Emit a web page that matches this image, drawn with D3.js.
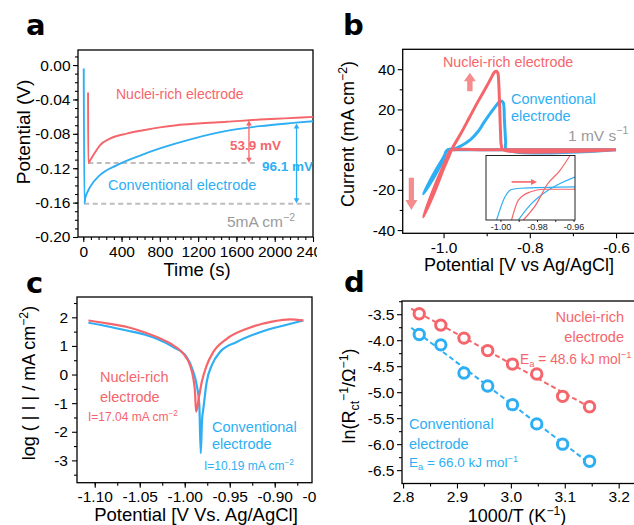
<!DOCTYPE html>
<html>
<head>
<meta charset="utf-8">
<script src="https://cdn.jsdelivr.net/npm/d3@7"></script>
<style>
  body { margin: 0; background: #fff; }
</style>
</head>
<body>
<script>
// ---- panel a : potential vs time ----
const timeNuclei = [50, 52, 65, 104, 174, 279, 453, 627, 800, 975, 1200, 1497, 1845, 2100, 2400];
const potNuclei  = [-0.032, -0.114, -0.112, -0.105, -0.0933, -0.0855, -0.0797, -0.0758, -0.0725, -0.0700, -0.0680, -0.0660, -0.0634, -0.0620, -0.0603];
const timeConv   = [5, 12, 20, 35, 70, 174, 348, 600, 800, 1149, 1497, 1845, 2193, 2400];
const potConv    = [-0.004, -0.161, -0.155, -0.150, -0.142, -0.128, -0.1166, -0.105, -0.097, -0.0855, -0.0766, -0.0711, -0.0673, -0.0653];
const aTimeTicks = [0, 400, 800, 1200, 1600, 2000, 2400];
const aPotTicks  = [-0.20, -0.16, -0.12, -0.08, -0.04, 0.00];

// ---- panel b : cyclic voltammetry ----
const cvNucleiV = [-0.60, -0.90, -0.975, -0.985, -0.995, -1.02, -1.047, -1.02, -1.0, -0.99, -0.98, -0.96, -0.94, -0.92, -0.90, -0.89, -0.882, -0.877, -0.874, -0.872, -0.870, -0.868, -0.866, -0.862, -0.60];
const cvNucleiI = [0, 0, 0, -0.6, -5.5, -18, -33.5, -20.5, -9.5, -4.5, 0.5, 8, 16, 24, 31.5, 35.5, 38.5, 39, 38, 33, 22, 9, 2, 0, 0];
const cvConvV = [-0.60, -0.86, -0.975, -0.99, -0.995, -1.0, -1.02, -1.047, -1.02, -1.0, -0.995, -0.99, -0.975, -0.96, -0.9376, -0.92, -0.907, -0.89, -0.876, -0.868, -0.862, -0.859, -0.856, -0.854, -0.60];
const cvConvI = [0, 0, 0, 0, -1.5, -3.8, -11, -22, -12.8, -4.8, -1.2, 0, 0.3, 1.8, 5, 9, 13.3, 18.5, 22.5, 24.2, 23.5, 15, 4, 0, 0];
const bVTicks = [-1.0, -0.8, -0.6];
const bITicks = [-40, -20, 0, 20, 40];
// inset (zoom around -0.98 V)
const insNucleiAV = [-0.9939, -0.9902, -0.9838, -0.9765, -0.9592];
const insNucleiAI = [-1.0, -0.385, -0.13, -0.046, -0.046];
const insNucleiBV = [-0.9875, -0.9802, -0.9747, -0.9674, -0.9619];
const insNucleiBI = [-1.0, -0.49, 0.077, 0.54, 1.0];
const insConvAV = [-1.0021, -0.9975, -0.9939, -0.9893, -0.9592];
const insConvAI = [-1.0, -0.28, -0.055, -0.015, 0.025];
const insConvBV = [-0.9902, -0.9838, -0.9765, -0.9692, -0.9592];
const insConvBI = [-1.0, -0.54, -0.18, 0.077, 0.33];
const insTicks = [-1.00, -0.98, -0.96];

// ---- panel c : Tafel ----
const tafelNucleiV = [-1.107, -1.085, -1.064, -1.045, -1.031, -1.0127, -1.0016, -0.9941, -0.9904, -0.9886, -0.9874, -0.9838, -0.9811, -0.9756, -0.9682, -0.9533, -0.9311, -0.9016, -0.883, -0.8682];
const tafelNucleiL = [1.89, 1.78, 1.66, 1.48, 1.31, 1.02, 0.73, 0.32, -0.14, -0.6, -1.30, -0.72, -0.26, 0.32, 0.79, 1.25, 1.60, 1.86, 1.93, 1.89];
const tafelConvV = [-1.107, -1.085, -1.0644, -1.045, -1.0311, -1.0127, -0.9978, -0.9904, -0.9867, -0.9838, -0.9822, -0.9808, -0.9793, -0.9756, -0.970, -0.9608, -0.9422, -0.9163, -0.8867, -0.8682];
const tafelConvL = [1.81, 1.68, 1.54, 1.40, 1.25, 0.96, 0.61, 0.09, -0.37, -1.07, -2.75, -1.6, -1.19, -0.26, 0.32, 0.79, 1.14, 1.48, 1.74, 1.89];
const cVTicks = [-1.10, -1.05, -1.00, -0.95, -0.90, -0.85];
const cLTicks = [-3, -2, -1, 0, 1, 2];

// ---- panel d : Arrhenius ----
const invT = [2.830, 2.870, 2.913, 2.957, 3.003, 3.048, 3.096, 3.146];
const lnRNuclei = [-3.49, -3.71, -3.96, -4.20, -4.46, -4.65, -5.08, -5.28];
const lnRConv   = [-3.89, -4.09, -4.63, -4.88, -5.24, -5.61, -6.00, -6.33];
const dXTicks = [2.8, 2.9, 3.0, 3.1, 3.2];
const dYTicks = [-6.5, -6.0, -5.5, -5.0, -4.5, -4.0, -3.5];

const FONT = '"Liberation Sans", Arial, sans-serif';
const RED = "#f4666b", BLUE = "#2eaff3", GRAY = "#9a9a9a";

const svg = d3.select("body").append("svg").attr("width", 634).attr("height", 525);
const defs = svg.append("defs");
defs.append("clipPath").attr("id", "clipLeft")
    .append("rect").attr("x", 0).attr("y", 0).attr("width", 317).attr("height", 525);

const minus = s => s.replace(/\u2212/g, "-");
let clipCount = 0;

// builds frame + major/minor ticks, returns scales and a clipped plot group
function panel(o) {
    const root = svg.append("g");
    if (o.clipLeft) root.attr("clip-path", "url(#clipLeft)");
    const x = d3.scaleLinear().domain(o.xd).range([o.l, o.r]);
    const y = d3.scaleLinear().domain(o.yd).range([o.b, o.t]);
    const inX = v => v > o.xd[0] + 1e-6 && v < o.xd[1] - 1e-6;
    const inY = v => v > o.yd[0] + 1e-6 && v < o.yd[1] - 1e-6;

    root.append("g").attr("transform", `translate(0,${o.b})`)
        .call(d3.axisBottom(x).tickValues(o.xMinor.filter(inX)).tickSize(3).tickFormat(""));
    root.append("g").attr("transform", `translate(0,${o.b})`)
        .call(d3.axisBottom(x).tickValues(o.xTicks).tickSize(5).tickPadding(o.xPad || 3.5).tickFormat(d => minus(o.xf(d))));
    root.append("g").attr("transform", `translate(${o.l},0)`)
        .call(d3.axisLeft(y).tickValues(o.yMinor.filter(inY)).tickSize(3).tickFormat(""));
    root.append("g").attr("transform", `translate(${o.l},0)`)
        .call(d3.axisLeft(y).tickValues(o.yTicks).tickSize(5).tickPadding(o.yPad || 2.5).tickFormat(d => minus(o.yf(d))));

    root.selectAll(".domain").remove();
    root.selectAll(".tick line").attr("stroke", "#000").attr("stroke-width", 1.1);
    root.selectAll(".tick text").attr("font-size", 15.5).attr("font-family", FONT).attr("fill", "#000");

    root.append("rect")
        .attr("x", o.l).attr("y", o.t).attr("width", o.r - o.l).attr("height", o.b - o.t)
        .attr("fill", "none").attr("stroke", "#000").attr("stroke-width", 1.3);

    const id = "clip" + (clipCount++);
    defs.append("clipPath").attr("id", id).append("rect")
        .attr("x", o.l).attr("y", o.t).attr("width", o.r - o.l).attr("height", o.b - o.t);
    const plot = root.append("g").attr("clip-path", `url(#${id})`);
    return { root, plot, x, y };
}

// text with sup/sub parts: [["text"], ["2", "sup"], ...]
function txt(g, x, y, parts, o = {}) {
    const fs = o.size || 14.5;
    const t = g.append("text")
        .attr("font-size", fs).attr("font-family", FONT)
        .attr("fill", o.color || "#000")
        .attr("font-weight", o.weight || "normal")
        .attr("text-anchor", o.anchor || "start");
    if (o.rotate) t.attr("transform", `translate(${x},${y}) rotate(-90)`);
    else t.attr("x", x).attr("y", y);
    if (typeof parts === "string") parts = [[parts]];
    let off = 0;
    parts.forEach(([s, k]) => {
        const shift = k === "sup" ? -fs * 0.4 : k === "sub" ? fs * 0.22 : 0;
        t.append("tspan").attr("dy", shift - off).attr("font-size", k ? fs * 0.68 : fs).text(s);
        off = shift;
    });
    return t;
}

function zip(a, b) { return a.map((v, i) => [v, b[i]]); }

function head(g, x, y, dir, len, hw, color) {
    // dir = -1 points up, +1 points down ; "r" points right
    if (dir === "r") {
        g.append("path").attr("d", `M${x},${y}L${x - len},${y - hw}L${x - len},${y + hw}Z`).attr("fill", color);
    } else {
        g.append("path").attr("d", `M${x},${y}L${x - hw},${y - dir * len}L${x + hw},${y - dir * len}Z`).attr("fill", color);
    }
}

function doubleArrow(g, x, y1, y2, color) {
    g.append("line").attr("x1", x).attr("x2", x).attr("y1", y1 + 4).attr("y2", y2 - 4)
        .attr("stroke", color).attr("stroke-width", 1.3);
    head(g, x, y1, -1, 5, 2.8, color);
    head(g, x, y2, 1, 5, 2.8, color);
}

function blockArrow(g, cx, tailY, tipY, hl, hw, sw, color) {
    const dir = Math.sign(tipY - tailY);
    const baseY = tipY - dir * hl;
    const pts = [[cx - sw, tailY], [cx - sw, baseY], [cx - hw, baseY], [cx, tipY],
                 [cx + hw, baseY], [cx + sw, baseY], [cx + sw, tailY]];
    g.append("path").attr("d", "M" + pts.map(p => p.join(",")).join("L") + "Z").attr("fill", color);
}

// ================= panel a =================
const pa = panel({
    l: 78, r: 313, t: 50, b: 237, xd: [-55, 2400], yd: [-0.2, 0.0175], clipLeft: true,
    xTicks: aTimeTicks, xMinor: d3.range(0, 2401, 80), xf: d3.format("d"),
    yTicks: aPotTicks, yMinor: d3.range(-20, 2).map(v => v / 100), yf: d3.format(".2f")
});
const lineA = d3.line().x(d => pa.x(d[0])).y(d => pa.y(d[1])).curve(d3.curveMonotoneX);

// reference dashed levels
pa.plot.append("line").attr("x1", pa.x(52)).attr("x2", pa.x(1810))
    .attr("y1", pa.y(-0.114)).attr("y2", pa.y(-0.114))
    .attr("stroke", "#bdbdbd").attr("stroke-width", 2).attr("stroke-dasharray", "5,3.5");
pa.plot.append("line").attr("x1", pa.x(10)).attr("x2", pa.x(2400))
    .attr("y1", pa.y(-0.1613)).attr("y2", pa.y(-0.1613))
    .attr("stroke", "#bdbdbd").attr("stroke-width", 2).attr("stroke-dasharray", "5,3.5");

pa.plot.append("path").attr("d", lineA(zip(timeConv, potConv)))
    .attr("fill", "none").attr("stroke", BLUE).attr("stroke-width", 1.9);
pa.plot.append("path").attr("d", lineA(zip(timeNuclei, potNuclei)))
    .attr("fill", "none").attr("stroke", RED).attr("stroke-width", 1.9);

doubleArrow(pa.root, pa.x(1731), pa.y(-0.0645), pa.y(-0.1135), RED);
doubleArrow(pa.root, pa.x(2228), pa.y(-0.068), pa.y(-0.1608), BLUE);

txt(pa.root, 116, 99, "Nuclei-rich electrode", { color: RED, size: 14 });
txt(pa.root, 108, 190, "Conventional electrode", { color: BLUE, size: 14.5 });
txt(pa.root, 230, 150, "53.9 mV", { color: RED, size: 13.5, weight: "bold" });
txt(pa.root, 262, 170.5, "96.1 mV", { color: BLUE, size: 13.5, weight: "bold" });
txt(pa.root, 227, 227, [["5mA cm"], ["\u22122", "sup"]], { color: GRAY, size: 15.5 });
txt(pa.root, 30, 132, "Potential (V)", { size: 19, anchor: "middle", rotate: true });
txt(pa.root, 197, 276, "Time (s)", { size: 18.5, anchor: "middle" });
txt(svg, 26, 35, "a", { size: 29, weight: "bold" }).attr("font-family", '"DejaVu Sans", sans-serif');

// ================= panel b =================
const pb = panel({
    l: 402.7, r: 635, t: 49.3, b: 233.3, xd: [-1.0948, -0.556], yd: [-41.6, 49.9],
    xTicks: bVTicks, xMinor: [-1.1, -0.9, -0.7], xf: d3.format(".1f"),
    yTicks: bITicks, yMinor: [-30, -10, 10, 30], yf: d3.format("d")
});
const lineB = d3.line().x(d => pb.x(d[0])).y(d => pb.y(d[1])).curve(d3.curveCatmullRom.alpha(0.5));
pb.plot.append("path").attr("d", lineB(zip(cvConvV, cvConvI)))
    .attr("fill", "none").attr("stroke", BLUE).attr("stroke-width", 3).attr("stroke-linejoin", "round");
pb.plot.append("path").attr("d", lineB(zip(cvNucleiV, cvNucleiI)))
    .attr("fill", "none").attr("stroke", RED).attr("stroke-width", 3).attr("stroke-linejoin", "round");

blockArrow(pb.root, pb.x(-0.939), pb.y(29), pb.y(38.3), 8.5, 6, 2.7, "#f58c8e");
blockArrow(pb.root, pb.x(-1.0747), pb.y(-14), pb.y(-30), 10, 6, 2.6, "#f58c8e");

txt(pb.root, 443, 66.5, "Nuclei-rich electrode", { color: RED, size: 14.3 });
txt(pb.root, 511, 104, "Conventional", { color: BLUE, size: 14.5 });
txt(pb.root, 511, 121, "electrode", { color: BLUE, size: 14.5 });
txt(pb.root, 568, 140.5, [["1 mV s"], ["\u22121", "sup"]], { color: GRAY, size: 15.5 });
txt(pb.root, 354, 134, [["Current (mA cm"], ["\u22122", "sup"], [")"]], { size: 18, anchor: "middle", rotate: true });
txt(pb.root, 519, 271, "Potential [V vs Ag/AgCl]", { size: 18, anchor: "middle" });
txt(svg, 343, 35, "b", { size: 29, weight: "bold" }).attr("font-family", '"DejaVu Sans", sans-serif');

// inset
const ins = { l: 486, r: 575, t: 155.5, b: 220 };
const ix = d3.scaleLinear().domain([-1.0079, -0.9592]).range([ins.l, ins.r]);
const iy = d3.scaleLinear().domain([-1, 1]).range([ins.b, ins.t]);
const insG = pb.root.append("g");
insG.append("rect").attr("x", ins.l).attr("y", ins.t).attr("width", ins.r - ins.l).attr("height", ins.b - ins.t)
    .attr("fill", "#fff");
defs.append("clipPath").attr("id", "clipInset").append("rect")
    .attr("x", ins.l).attr("y", ins.t).attr("width", ins.r - ins.l).attr("height", ins.b - ins.t);
const insPlot = insG.append("g").attr("clip-path", "url(#clipInset)");
const lineI = d3.line().x(d => ix(d[0])).y(d => iy(d[1])).curve(d3.curveMonotoneX);
[[insConvAV, insConvAI, BLUE], [insConvBV, insConvBI, BLUE],
 [insNucleiAV, insNucleiAI, RED], [insNucleiBV, insNucleiBI, RED]].forEach(([v, c, col]) => {
    insPlot.append("path").attr("d", lineI(zip(v, c)))
        .attr("fill", "none").attr("stroke", col).attr("stroke-width", 1.2);
});
const insAx = insG.append("g").attr("transform", `translate(0,${ins.b})`)
    .call(d3.axisBottom(ix).tickValues([-1.00, -0.99, -0.98, -0.97, -0.96]).tickSize(2).tickPadding(1.2)
        .tickFormat(d => insTicks.some(t => Math.abs(t - d) < 1e-6) ? minus(d3.format(".2f")(d)) : ""));
insAx.select(".domain").remove();
insAx.selectAll("text").attr("font-size", 9).attr("font-family", FONT).attr("fill", "#222");
insAx.selectAll("line").attr("stroke", "#222");
insG.append("rect").attr("x", ins.l).attr("y", ins.t).attr("width", ins.r - ins.l).attr("height", ins.b - ins.t)
    .attr("fill", "none").attr("stroke", "#222").attr("stroke-width", 1);
insG.append("line").attr("x1", ix(-0.9939)).attr("x2", ix(-0.9815))
    .attr("y1", iy(0.18)).attr("y2", iy(0.18)).attr("stroke", RED).attr("stroke-width", 1.6);
head(insG, ix(-0.980), iy(0.18), "r", 6, 3, RED);

// ================= panel c =================
const pc = panel({
    l: 77, r: 312, t: 297, b: 482.7, xd: [-1.1197, -0.8586], yd: [-3.78, 2.71], clipLeft: true,
    xTicks: cVTicks, xMinor: d3.range(0, 11).map(i => -1.10 + i * 0.025), xf: d3.format(".2f"),
    yTicks: cLTicks, yMinor: [-3.5, -2.5, -1.5, -0.5, 0.5, 1.5, 2.5], yf: d3.format("d"),
    yPad: 4
});
const lineC = d3.line().x(d => pc.x(d[0])).y(d => pc.y(d[1])).curve(d3.curveMonotoneX);
pc.plot.append("path").attr("d", lineC(zip(tafelConvV, tafelConvL)))
    .attr("fill", "none").attr("stroke", BLUE).attr("stroke-width", 2.2);
pc.plot.append("path").attr("d", lineC(zip(tafelNucleiV, tafelNucleiL)))
    .attr("fill", "none").attr("stroke", RED).attr("stroke-width", 2.2);

txt(pc.root, 100, 382, "Nuclei-rich", { color: RED, size: 14.5 });
txt(pc.root, 100, 401.5, "electrode", { color: RED, size: 14.5 });
txt(pc.root, 88, 421, [["I=17.04 mA cm"], ["\u22122", "sup"]], { color: RED, size: 12 });
txt(pc.root, 212, 431.5, "Conventional", { color: BLUE, size: 14.5 });
txt(pc.root, 212, 449, "electrode", { color: BLUE, size: 14.5 });
txt(pc.root, 204, 470, [["I=10.19 mA cm"], ["\u22122", "sup"]], { color: BLUE, size: 12 });
txt(pc.root, 35, 383, [["log ( | I | / mA cm"], ["\u22122", "sup"], [")"]], { size: 18, anchor: "middle", rotate: true });
txt(pc.root, 196, 521, "Potential [V Vs. Ag/AgCl]", { size: 18.5, anchor: "middle" });
txt(svg, 26, 293, "c", { size: 29, weight: "bold" }).attr("font-family", '"DejaVu Sans", sans-serif');

// ================= panel d =================
const pd = panel({
    l: 402, r: 635, t: 301, b: 483.5, xd: [2.798, 3.2303], yd: [-6.757, -3.246],
    xTicks: dXTicks, xMinor: [2.85, 2.95, 3.05, 3.15], xf: d3.format(".1f"), xPad: 2,
    yTicks: dYTicks, yMinor: [-6.25, -5.75, -5.25, -4.75, -4.25, -3.75, -3.25], yf: d3.format(".1f")
});

function fit(xs, ys) {
    const mx = d3.mean(xs), my = d3.mean(ys);
    const k = d3.sum(xs, (v, i) => (v - mx) * (ys[i] - my)) / d3.sum(xs, v => (v - mx) * (v - mx));
    return v => my + k * (v - mx);
}
[[lnRConv, BLUE], [lnRNuclei, RED]].forEach(([ys, col]) => {
    const f = fit(invT, ys);
    pd.plot.append("line")
        .attr("x1", pd.x(2.815)).attr("y1", pd.y(f(2.815)))
        .attr("x2", pd.x(3.155)).attr("y2", pd.y(f(3.155)))
        .attr("stroke", col).attr("stroke-width", 2).attr("stroke-dasharray", "5,3");
    pd.plot.selectAll(null).data(zip(invT, ys)).enter().append("circle")
        .attr("cx", d => pd.x(d[0])).attr("cy", d => pd.y(d[1])).attr("r", 5.2)
        .attr("fill", "#fff").attr("stroke", col).attr("stroke-width", 3);
});

txt(pd.root, 624, 322, "Nuclei-rich", { color: RED, size: 14.5, anchor: "end" });
txt(pd.root, 624, 342, "electrode", { color: RED, size: 14.5, anchor: "end" });
txt(pd.root, 520, 363.5, [["E"], ["a", "sub"], [" = 48.6 kJ mol"], ["\u22121", "sup"]], { color: RED, size: 13.8 });
txt(pd.root, 409, 428.5, "Conventional", { color: BLUE, size: 14.5 });
txt(pd.root, 409, 448.5, "electrode", { color: BLUE, size: 14.5 });
txt(pd.root, 409, 467, [["E"], ["a", "sub"], [" = 66.0 kJ mol"], ["\u22121", "sup"]], { color: BLUE, size: 13.5 });
txt(pd.root, 355, 396, [["ln(R"], ["ct", "sub"], ["\u22121", "sup"], ["/\u03a9"], ["\u22121", "sup"], [")"]], { size: 18, anchor: "middle", rotate: true });
txt(pd.root, 517, 522, [["1000/T (K"], ["\u22121", "sup"], [")"]], { size: 18, anchor: "middle" });
txt(svg, 344, 292, "d", { size: 29, weight: "bold" }).attr("font-family", '"DejaVu Sans", sans-serif');
</script>
</body>
</html>
